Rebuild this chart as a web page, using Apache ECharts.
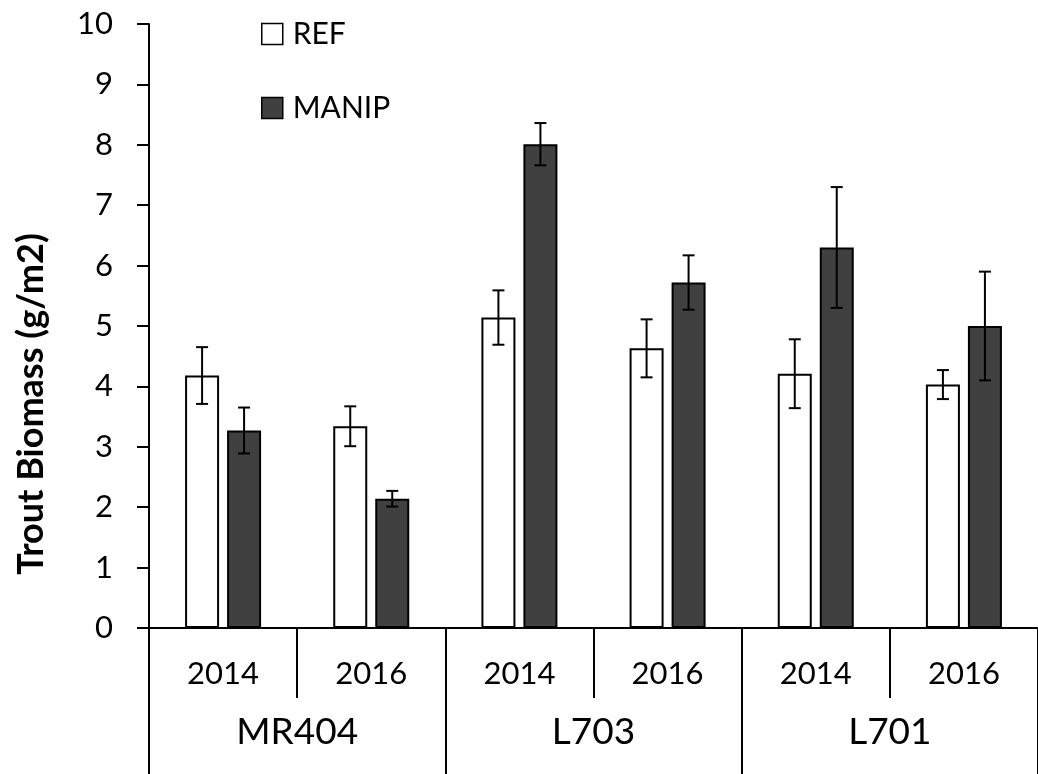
<!DOCTYPE html>
<html>
<head>
<meta charset="utf-8">
<script src="https://cdn.jsdelivr.net/npm/echarts@6/dist/echarts.min.js"></script>
<style>
  html, body { margin: 0; padding: 0; background: #fff; }
  #chart { width: 1038px; height: 774px; }
</style>
</head>
<body>
<div id="chart"></div>
<script>
// categories: year inside each site
const years = ['2014', '2016', '2014', '2016', '2014', '2016'];
const sites = ['MR404', 'L703', 'L701'];

// trout biomass (g/m2)
const refValues = [4.18, 3.34, 5.14, 4.63, 4.21, 4.03];
const refErr = [0.47, 0.33, 0.45, 0.48, 0.57, 0.24];
const manipValues = [3.27, 2.14, 8.01, 5.72, 6.30, 5.00];
const manipErr = [0.38, 0.13, 0.35, 0.45, 1.00, 0.90];

const yTicks = [0, 1, 2, 3, 4, 5, 6, 7, 8, 9, 10];

const FONT = 'Lato';
const BAR_W = 34;
const BAR_GAP = 8;

// error bar rows: [index, low, high]
function errRows(vals, errs) {
  return vals.map((v, i) => [i, v - errs[i], v + errs[i]]);
}

// 误差线
function errorBar(shift) {
  return function (params, api) {
    const i = api.value(0);
    const lo = api.coord([i, api.value(1)]);
    const hi = api.coord([i, api.value(2)]);
    const x = lo[0] + shift;
    const cap = 6;
    const style = { stroke: '#000', lineWidth: 2 };
    return {
      type: 'group',
      children: [
        { type: 'line', shape: { x1: x, y1: lo[1], x2: x, y2: hi[1] }, style: style },
        { type: 'line', shape: { x1: x - cap, y1: hi[1], x2: x + cap, y2: hi[1] }, style: style },
        { type: 'line', shape: { x1: x - cap, y1: lo[1], x2: x + cap, y2: lo[1] }, style: style },
      ],
    };
  };
}

const chart = echarts.init(document.getElementById('chart'));
const shift = (BAR_W + BAR_GAP) / 2;

chart.setOption({
  animation: false,
  backgroundColor: '#fff',
  textStyle: { fontFamily: FONT },
  legend: {
    orient: 'vertical',
    left: 256,
    top: 14,
    icon: 'rect',
    itemWidth: 21,
    itemHeight: 21,
    itemGap: 44,
    textStyle: { fontFamily: FONT, fontSize: 30, color: '#000', padding: [0, 0, 0, 5] },
    itemStyle: { borderColor: '#000', borderWidth: 1.5 },
    data: ['REF', 'MANIP'],
  },
  grid: { left: 149, right: 0, top: 24, bottom: 146 },
  xAxis: [
    {
      type: 'category',
      data: years,
      position: 'bottom',
      axisLine: { lineStyle: { color: '#000', width: 2 } },
      axisTick: { show: true, interval: 0, length: 70, lineStyle: { color: '#000', width: 2 } },
      axisLabel: { interval: 0, margin: 30, fontFamily: FONT, fontSize: 31, color: '#000' },
    },
    {
      type: 'category',
      data: sites,
      position: 'bottom',
      offset: 70,
      axisLine: { show: false },
      axisTick: { show: true, interval: 0, length: 76, lineStyle: { color: '#000', width: 2 } },
      axisLabel: { interval: 0, margin: 16, fontFamily: FONT, fontSize: 37, color: '#000' },
    },
  ],
  yAxis: {
    type: 'value',
    min: yTicks[0],
    max: yTicks[yTicks.length - 1],
    interval: 1,
    name: 'Trout Biomass (g/m2)',
    nameLocation: 'middle',
    nameGap: 100,
    nameTextStyle: {
      fontFamily: FONT, fontSize: 36, fontWeight: 'bold', color: '#000',
      padding: [0, 156, 0, 0],
    },
    axisLine: { show: true, lineStyle: { color: '#000', width: 2 } },
    axisTick: { show: true, length: 12, lineStyle: { color: '#000', width: 2 } },
    axisLabel: { margin: 36, fontFamily: FONT, fontSize: 31, color: '#000' },
    splitLine: { show: false },
  },
  series: [
    {
      name: 'REF',
      type: 'bar',
      data: refValues,
      barWidth: BAR_W,
      barGap: (BAR_GAP / BAR_W * 100) + '%',
      itemStyle: { color: '#fff', borderColor: '#000', borderWidth: 2 },
    },
    {
      name: 'MANIP',
      type: 'bar',
      data: manipValues,
      barWidth: BAR_W,
      itemStyle: { color: '#404040', borderColor: '#000', borderWidth: 2 },
    },
    {
      type: 'custom',
      data: errRows(refValues, refErr),
      encode: { x: 0, y: [1, 2] },
      renderItem: errorBar(-shift),
      z: 5,
    },
    {
      type: 'custom',
      data: errRows(manipValues, manipErr),
      encode: { x: 0, y: [1, 2] },
      renderItem: errorBar(shift),
      z: 5,
    },
  ],
});
</script>
</body>
</html>
